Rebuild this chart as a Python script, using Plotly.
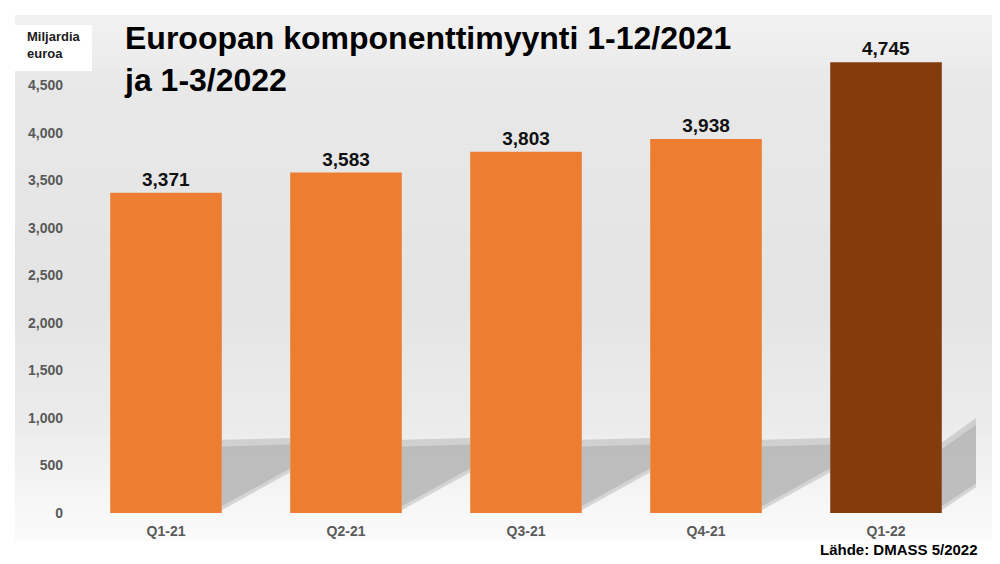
import plotly.graph_objects as go

# ---- data ----
categories = ["Q1-21", "Q2-21", "Q3-21", "Q4-21", "Q1-22"]
values = [3371, 3583, 3803, 3938, 4745]
bar_colors = ["#ED7D31", "#ED7D31", "#ED7D31", "#ED7D31", "#843C0C"]
tick_values = [0, 500, 1000, 1500, 2000, 2500, 3000, 3500, 4000, 4500]
title_text = "Euroopan komponenttimyynti 1-12/2021<br>ja 1-3/2022"
unit_text = "Miljardia<br>euroa"
source_text = "Lähde: DMASS 5/2022"

W, H = 1000, 564
ML, MR, MT, MB = 76, 24, 38, 51
PW = W - ML - MR
PH = H - MT - MB
FONT = "Liberation Sans, Arial, sans-serif"


def px_x(px):
    return (px - ML) / PW


def px_y(py):
    return (H - MB - py) / PH


shapes = []
# background gradient panel (bands)
top_py, bot_py, left_px, right_px = 15, 540, 15, 992
stops = [(15, 242), (90, 232), (300, 228), (420, 235), (540, 251)]
n = 60
for k in range(n):
    y0 = top_py + (bot_py - top_py) * k / n
    y1 = top_py + (bot_py - top_py) * (k + 1) / n
    ym = (y0 + y1) / 2
    for j in range(len(stops) - 1):
        if stops[j][0] <= ym <= stops[j + 1][0]:
            t = (ym - stops[j][0]) / (stops[j + 1][0] - stops[j][0])
            g = int(round(stops[j][1] + t * (stops[j + 1][1] - stops[j][1])))
            break
    shapes.append(dict(type="rect", xref="paper", yref="paper", layer="below",
                       x0=px_x(left_px), x1=px_x(right_px), y0=px_y(y1 + 0.5), y1=px_y(y0),
                       fillcolor=f"rgb({g},{g},{g})", line=dict(width=0)))

# white box behind unit label
shapes.append(dict(type="rect", xref="paper", yref="paper", layer="below",
                   x0=px_x(15), x1=px_x(92), y0=px_y(71), y1=px_y(25),
                   fillcolor="white", line=dict(width=0)))

# bar shadows on back wall
half = 0.31
gap = 1 - 2 * half
for i in range(len(categories)):
    xr = i + half
    if i < len(categories) - 1:
        xe = xr + gap
        yb0, yb1, yt0, yt1 = 30, 430, 770, 790
    else:
        xe = len(categories) - 0.5
        yb0, yb1, yt0, yt1 = 30, 270, 740, 1000
    layers = [(0, 0, 0, 0.38), (40, 60, 70, 0.42)]
    for db, dt, dtop, op in layers:
        path = (f"M {xr},{yb0 + db} L {xe},{yb1 + db} "
                f"L {xe},{yt1 - dtop} L {xr},{yt0 - dtop} Z")
        shapes.append(dict(type="path", xref="x", yref="y", layer="below", path=path,
                           fillcolor=f"rgba(160,160,160,{op})", line=dict(width=0)))

fig = go.Figure()
fig.add_trace(go.Bar(
    x=categories, y=values,
    marker=dict(color=bar_colors, line=dict(width=0)),
    width=2 * half,
    text=[f"{v:,}" for v in values],
    textposition="outside",
    textfont=dict(family=FONT, size=19, color="#111111", weight="bold"),
    cliponaxis=False,
    hoverinfo="skip",
))

annotations = [
    dict(text=title_text, xref="paper", yref="paper", x=px_x(122), y=px_y(18),
         xanchor="left", yanchor="top", align="left", showarrow=False,
         font=dict(family=FONT, size=32, color="#000000", weight="bold")),
    dict(text=unit_text, xref="paper", yref="paper", x=px_x(25), y=px_y(27),
         xanchor="left", yanchor="top", align="left", showarrow=False,
         font=dict(family=FONT, size=13, color="#1a1a1a", weight="bold")),
    dict(text=source_text, xref="paper", yref="paper", x=px_x(980), y=px_y(549),
         xanchor="right", yanchor="middle", align="right", showarrow=False,
         font=dict(family=FONT, size=15, color="#000000", weight="bold")),
]

fig.update_layout(
    width=W, height=H,
    margin=dict(l=ML, r=MR, t=MT, b=MB),
    paper_bgcolor="white",
    plot_bgcolor="rgba(0,0,0,0)",
    showlegend=False,
    shapes=shapes,
    annotations=annotations,
    xaxis=dict(showline=False, showgrid=False, zeroline=False, ticks="",
               tickfont=dict(family=FONT, size=14, color="#595959", weight="bold"),
               ticklabelstandoff=8),
    yaxis=dict(range=[0, 5000], showline=False, showgrid=False, zeroline=False,
               tickvals=tick_values, tickformat=",", ticks="",
               tickfont=dict(family=FONT, size=14, color="#595959", weight="bold"),
               ticklabelstandoff=12),
)

fig.write_html("out.html", config={"displayModeBar": False},
               post_script="document.body.style.margin='0';document.body.style.padding='0';")
